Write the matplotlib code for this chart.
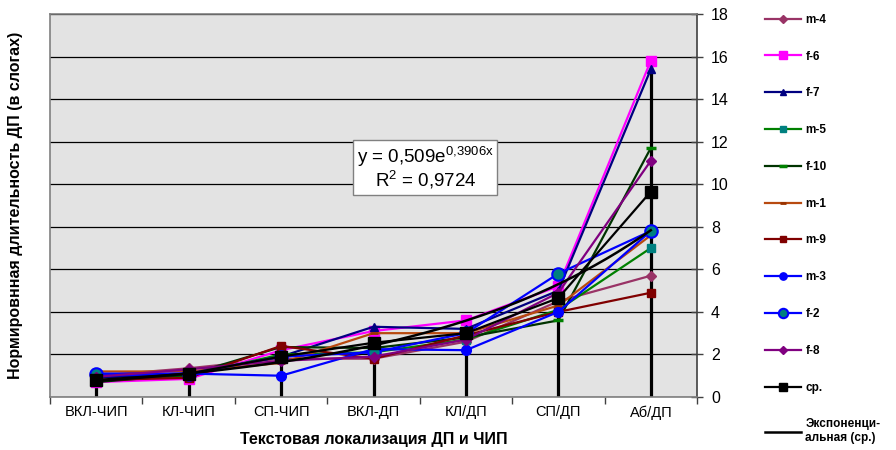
import numpy as np
import matplotlib
matplotlib.use("Agg")
import matplotlib.pyplot as plt

plt.rcParams['font.family'] = ['Liberation Sans', 'DejaVu Sans']
plt.rcParams['mathtext.fontset'] = 'custom'
plt.rcParams['mathtext.rm'] = 'Liberation Sans'
plt.rcParams['mathtext.it'] = 'Liberation Sans'

categories = ['ВКЛ-ЧИП', 'КЛ-ЧИП', 'СП-ЧИП', 'ВКЛ-ДП', 'КЛ/ДП', 'СП/ДП', 'Аб/ДП']

m4 = [1.0, 1.35, 1.8, 1.8, 2.6, 4.5, 5.7]
f6 = [0.7, 0.85, 2.2, 3.1, 3.6, 5.2, 15.8]
f7 = [0.9, 1.1, 1.9, 3.3, 3.2, 5.0, 15.4]
m5 = [0.75, 1.0, 2.0, 2.1, 2.7, 4.1, 7.0]
f10 = [0.7, 1.05, 2.35, 2.3, 2.8, 3.6, 11.7]
m1 = [1.2, 1.2, 1.6, 3.0, 3.0, 4.3, 7.6]
m9 = [0.8, 0.9, 2.4, 1.8, 2.9, 4.0, 4.9]
m3 = [1.0, 1.1, 1.0, 2.25, 2.2, 4.0, 7.8]
f2 = [1.1, 1.1, 1.9, 2.1, 3.0, 5.8, 7.8]
f8 = [0.95, 1.3, 1.7, 1.9, 2.7, 4.9, 11.1]
mean = [0.8, 1.1, 1.9, 2.55, 3.0, 4.65, 9.65]

# Exponential trend of the mean: y = a * exp(b * x)
trend_a = 0.509
trend_b = 0.3906
trend_r2 = 0.9724

series = [
    ('m-4', m4, dict(color='#993366', marker='D', ms=5, mfc='#993366', mec='#993366')),
    ('f-6', f6, dict(color='#FF00FF', marker='s', ms=7, mfc='#FF00FF', mec='#FF00FF')),
    ('f-7', f7, dict(color='#000080', marker='^', ms=6, mfc='#000080', mec='#000080')),
    ('m-5', m5, dict(color='#008000', marker='s', ms=6, mfc='#008080', mec='#008080')),
    ('f-10', f10, dict(color='#003300', marker='_', ms=7, mew=2.5, mfc='#008000', mec='#008000')),
    ('m-1', m1, dict(color='#B84A10', marker='_', ms=6, mew=2, mfc='#993300', mec='#993300')),
    ('m-9', m9, dict(color='#800000', marker='s', ms=6, mfc='#800000', mec='#800000')),
    ('m-3', m3, dict(color='#0000FF', marker='o', ms=7, mfc='#0000FF', mec='#0000FF')),
    ('f-2', f2, dict(color='#0000FF', marker='o', ms=9, mfc='#008080', mec='#0000FF', mew=1.5)),
    ('f-8', f8, dict(color='#800080', marker='D', ms=5, mfc='#800080', mec='#800080')),
    ('ср.', mean, dict(color='#000000', marker='s', ms=8, mfc='#000000', mec='#000000')),
]

fig = plt.figure(figsize=(8.96, 4.5), dpi=100)
ax = fig.add_axes([50 / 896, 1 - 397 / 450, 647 / 896, 383 / 450])
ax.set_facecolor('#E3E3E3')

x = np.arange(1, len(categories) + 1)

# Drop lines from the highest value in each category down to the axis
all_vals = np.array([s[1] for s in series])
ax.vlines(x, 0, all_vals.max(axis=0), color='black', lw=2.3, zorder=2)

handles = []
for name, vals, st in series:
    h, = ax.plot(x, vals, lw=1.6, label=name, zorder=3, **st)
    handles.append(h)

xt = np.linspace(1, len(categories), 200)
h_tr, = ax.plot(xt, trend_a * np.exp(trend_b * xt), color='black', lw=1.8,
                zorder=4, label='Экспоненци-\nальная (ср.)')
handles.append(h_tr)

ax.set_xlim(0.5, len(categories) + 0.5)
ax.set_ylim(0, 18)
ax.set_yticks(np.arange(0, 19, 2))
ax.yaxis.tick_right()
ax.yaxis.set_label_position('left')
ax.tick_params(axis='y', direction='inout', length=8, width=1, colors='#404040',
               labelcolor='black', labelsize=11.5, pad=6)
ax.set_xticks(x)
ax.set_xticklabels(categories, fontsize=10.5)
ax.set_xticks(np.arange(0.5, len(categories) + 1, 1), minor=True)
ax.tick_params(axis='x', which='major', length=0, pad=6)
ax.tick_params(axis='x', which='minor', direction='out', length=5, width=1, colors='#404040')
ax.grid(axis='y', color='black', lw=0.9, zorder=0)
ax.set_axisbelow(True)
for sp in ax.spines.values():
    sp.set_color('#808080')
    sp.set_linewidth(1.2)
ax.spines['right'].set_color('#404040')

ax.set_ylabel('Нормировнная длительность ДП (в слогах)', fontsize=11.5, fontweight='bold')
ax.yaxis.set_label_coords(-27 / 647, 0.5)
ax.set_xlabel('Текстовая локализация ДП и ЧИП', fontsize=11.5, fontweight='bold')
ax.xaxis.set_label_coords(0.5, -35 / 383)

eq = 'y = 0,509e$^{0{,}3906x}$\nR$^2$ = 0,9724'
ax.text(4.56, 10.76, eq, fontsize=13.5, ha='center', va='center', linespacing=1.0,
        bbox=dict(boxstyle='square,pad=0.2', fc='white', ec='#808080', lw=1), zorder=6)

leg = fig.legend(handles=handles, loc='upper left', bbox_to_anchor=(760 / 896, 1 - 9 / 450),
                 frameon=False, prop=dict(size=8.5, weight='bold'), handlelength=3.05,
                 handletextpad=0.4, labelspacing=2.1, borderaxespad=0, markerscale=0.75)

fig.savefig('out.png', dpi=100)
